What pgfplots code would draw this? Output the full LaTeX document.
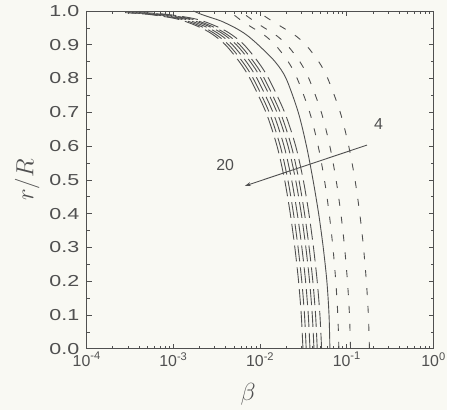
\documentclass[border=0pt]{standalone}
\usepackage{pgfplots}
\pgfplotsset{compat=1.18}
\usetikzlibrary{arrows.meta}
\usepackage{fontspec}
\setmainfont{Liberation Sans}
\definecolor{ink}{RGB}{80,80,80}
\definecolor{bg}{RGB}{249,249,243}
\begin{document}
\begin{tikzpicture}
\fill[bg] (-87bp,-61bp) rectangle (362bp,350bp);
\begin{axis}[
  at={(0,0)}, anchor=south west,
  scale only axis, width=348bp, height=339bp,
  xmode=log, xmin=1e-4, xmax=1, ymin=0, ymax=1,
  xtick={1e-4,1e-3,1e-2,1e-1,1},
  xticklabels={10\textsuperscript{-4},10\textsuperscript{-3},10\textsuperscript{-2},10\textsuperscript{-1},10\textsuperscript{0}},
  ytick={0,0.1,0.2,0.3,0.4,0.5,0.6,0.7,0.8,0.9,1.0},
  minor y tick num=1,
  yticklabel style={/pgf/number format/.cd,fixed,fixed zerofill,precision=1,/tikz/.cd,xscale=1.35,xshift=-2bp},
  /pgf/number format/assume math mode=true,
  tick label style={font=\fontsize{16}{18}\selectfont, text=ink},
  label style={font=\fontsize{24}{26}\selectfont, text=ink},
  xlabel={$\beta$}, ylabel={$r/R$},
  xlabel style={yshift=-10bp, xshift=-12bp},
  ylabel style={yshift=2bp},
  tick align=inside,
  major tick length=5bp, minor tick length=3bp,
  axis line style={ink, line width=0.9bp},
  every tick/.style={ink, line width=0.7bp},
  clip=true,
]
\pgfplotsset{dense/.style={ink, line width=0.9bp, dash pattern=on 16bp off 6bp},
             sdash/.style={ink, line width=0.9bp, dash pattern=on 7bp off 11bp}}
\addplot[dense, smooth] coordinates {(0.0312,0) (0.02984,0.1) (0.02776,0.2) (0.02515,0.3) (0.02228,0.4) (0.01917,0.5) (0.01568,0.6) (0.01168,0.7) (0.007647,0.8) (0.005744,0.85) (0.003978,0.9) (0.002856,0.93) (0.002089,0.95) (0.001339,0.97) (0.0009372,0.98) (0.000512,0.99) (0.000278,0.995)};
\addplot[dense, smooth] coordinates {(0.0340,0) (0.03252,0.1) (0.03025,0.2) (0.02741,0.3) (0.02428,0.4) (0.02089,0.5) (0.01709,0.6) (0.01273,0.7) (0.008333,0.8) (0.006259,0.85) (0.004335,0.9) (0.003112,0.93) (0.002277,0.95) (0.001459,0.97) (0.001021,0.98) (0.000558,0.99) (0.000303,0.995)};
\addplot[dense, smooth] coordinates {(0.0376,0) (0.03596,0.1) (0.03345,0.2) (0.03031,0.3) (0.02685,0.4) (0.02310,0.5) (0.01890,0.6) (0.01407,0.7) (0.009216,0.8) (0.006922,0.85) (0.004794,0.9) (0.003442,0.93) (0.002518,0.95) (0.001614,0.97) (0.001130,0.98) (0.000617,0.99) (0.000335,0.995)};
\addplot[dense, smooth] coordinates {(0.0418,0) (0.03998,0.1) (0.03719,0.2) (0.03370,0.3) (0.02985,0.4) (0.02568,0.5) (0.02101,0.6) (0.01565,0.7) (0.01025,0.8) (0.007695,0.85) (0.005330,0.9) (0.003826,0.93) (0.002799,0.95) (0.001794,0.97) (0.001256,0.98) (0.000686,0.99) (0.000372,0.995)};
\addplot[dense, smooth] coordinates {(0.0456,0) (0.04362,0.1) (0.04057,0.2) (0.03676,0.3) (0.03256,0.4) (0.02802,0.5) (0.02292,0.6) (0.01707,0.7) (0.01118,0.8) (0.008395,0.85) (0.005814,0.9) (0.004174,0.93) (0.003053,0.95) (0.001957,0.97) (0.001370,0.98) (0.000748,0.99) (0.000406,0.995)};
\addplot[dense, smooth] coordinates {(0.0512,0) (0.04897,0.1) (0.04555,0.2) (0.04127,0.3) (0.03656,0.4) (0.03146,0.5) (0.02573,0.6) (0.01916,0.7) (0.01255,0.8) (0.009426,0.85) (0.006528,0.9) (0.004686,0.93) (0.003428,0.95) (0.002198,0.97) (0.001538,0.98) (0.000840,0.99) (0.000456,0.995)};
\addplot[ink, line width=0.9bp, smooth] coordinates {(0.06383,0) (0.06237,0.1) (0.05888,0.2) (0.05346,0.3) (0.04732,0.4) (0.04074,0.5) (0.03428,0.6) (0.02754,0.7) (0.01995,0.8) (0.01486,0.85) (0.009484,0.9) (0.006902,0.93) (0.005164,0.95) (0.003565,0.97) (0.002735,0.98) (0.002100,0.99) (0.001700,1.0)};
\addplot[sdash, smooth] coordinates {(0.081,0) (0.07874,0.1) (0.07459,0.2) (0.06917,0.3) (0.06266,0.4) (0.05518,0.5) (0.04674,0.6) (0.03729,0.7) (0.02679,0.8) (0.02106,0.85) (0.01492,0.9) (0.01097,0.93) (0.008205,0.95) (0.0062,0.97) (0.0055,0.98) (0.0049,0.99) (0.0043,1.0)};
\addplot[sdash, smooth] coordinates {(0.1104,0) (0.1073,0.1) (0.1017,0.2) (0.09427,0.3) (0.08541,0.4) (0.07520,0.5) (0.06370,0.6) (0.05083,0.7) (0.03652,0.8) (0.02870,0.85) (0.02034,0.9) (0.01495,0.93) (0.01118,0.95) (0.0085,0.97) (0.0075,0.98) (0.0066,0.99) (0.0058,1.0)};
\addplot[sdash, smooth] coordinates {(0.1824,0) (0.1773,0.1) (0.1680,0.2) (0.1558,0.3) (0.1411,0.4) (0.1243,0.5) (0.1052,0.6) (0.08398,0.7) (0.06034,0.8) (0.04742,0.85) (0.03360,0.9) (0.02470,0.93) (0.01848,0.95) (0.0138,0.97) (0.0120,0.98) (0.0105,0.99) (0.0092,1.0)};
\draw[ink, line width=0.9bp, -{Stealth[length=6bp,width=4bp]}] (axis cs:0.171,0.603) -- (axis cs:0.00667,0.482);
\node[text=ink, font=\fontsize{16}{18}\selectfont] at (axis cs:0.233,0.664) {4};
\node[text=ink, font=\fontsize{16}{18}\selectfont] at (axis cs:0.00396,0.544) {20};
\end{axis}
\end{tikzpicture}
\end{document}
